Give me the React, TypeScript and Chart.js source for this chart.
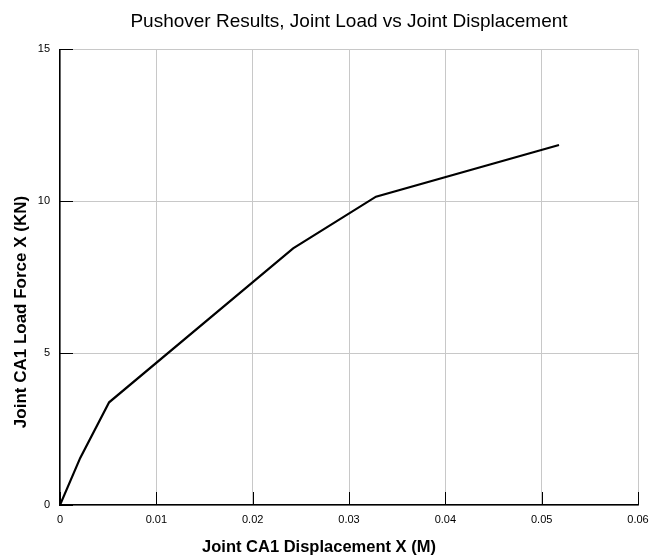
import React, { useEffect, useRef } from 'react';
import { Chart, registerables } from 'chart.js';

Chart.register(...registerables);

const displacement = [0, 0.0021, 0.0051, 0.0242, 0.0328, 0.0518];
const loadForce = [0, 1.55, 3.38, 8.45, 10.15, 11.85];
const xTickValues = [0, 0.01, 0.02, 0.03, 0.04, 0.05, 0.06];
const xTickLabels = ['0', '0.01', '0.02', '0.03', '0.04', '0.05', '0.06'];
const yTickValues = [0, 5, 10, 15];
const yTickLabels = ['0', '5', '10', '15'];
const titleText = 'Pushover Results, Joint Load vs Joint Displacement';
const xTitleText = 'Joint CA1 Displacement X (M)';
const yTitleText = 'Joint CA1 Load Force X (KN)';

const FONT = '"Liberation Sans", Arial, Helvetica, sans-serif';

const innerTicks = {
  id: 'innerTicks',
  beforeDatasetsDraw(chart: any) {
    const { ctx, chartArea, scales } = chart;
    ctx.save();
    ctx.strokeStyle = '#000';
    ctx.lineWidth = 1;
    ctx.beginPath();
    scales.x.ticks.forEach((t: any) => {
      const px = Math.round(scales.x.getPixelForValue(t.value)) + 0.5;
      ctx.moveTo(px, chartArea.bottom);
      ctx.lineTo(px, chartArea.bottom - 13);
    });
    scales.y.ticks.forEach((t: any) => {
      const py = Math.round(scales.y.getPixelForValue(t.value)) + 0.5;
      ctx.moveTo(chartArea.left, py);
      ctx.lineTo(chartArea.left + 13, py);
    });
    ctx.stroke();
    ctx.restore();
  },
};

const yTitlePlugin = {
  id: 'yTitlePlugin',
  afterDraw(chart: any) {
    const { ctx } = chart;
    ctx.save();
    ctx.translate(21, 312);
    ctx.rotate(-Math.PI / 2);
    ctx.font = `bold 17px ${FONT}`;
    ctx.fillStyle = '#000';
    ctx.textAlign = 'center';
    ctx.textBaseline = 'middle';
    ctx.fillText(yTitleText, 0, 0);
    ctx.restore();
  },
};

export default function App() {
  const canvasRef = useRef<HTMLCanvasElement | null>(null);

  useEffect(() => {
    if (!canvasRef.current) return;
    const points = displacement.map((x, i) => ({ x, y: loadForce[i] }));
    const chart = new Chart(canvasRef.current, {
      type: 'line',
      data: {
        datasets: [
          {
            data: points,
            borderColor: '#000',
            borderWidth: 2.2,
            pointRadius: 0,
            tension: 0,
            fill: false,
          },
        ],
      },
      options: {
        responsive: false,
        animation: false,
        devicePixelRatio: 1,
        layout: { padding: { left: 0, right: 11, top: 0, bottom: 0 } },
        plugins: {
          legend: { display: false },
          tooltip: { enabled: false },
          title: {
            display: true,
            text: titleText,
            fullSize: false,
            color: '#000',
            font: { family: FONT, size: 19, weight: 'normal', lineHeight: 1.2 },
            padding: { top: 10, bottom: 16.5 },
          },
          subtitle: {
            display: true,
            text: xTitleText,
            position: 'bottom',
            fullSize: true,
            color: '#000',
            font: { family: FONT, size: 16.5, weight: 'bold', lineHeight: 1 },
            padding: { top: 4, bottom: 0 },
          },
        },
        scales: {
          x: {
            type: 'linear',
            min: 0,
            max: 0.06,
            afterBuildTicks: (s: any) => {
              s.ticks = xTickValues.map((v) => ({ value: v }));
            },
            afterFit: (s: any) => {
              s.height = 30.5;
              s.paddingLeft = 0;
              s.paddingRight = 0;
            },
            ticks: {
              callback: (_v: any, i: number) => xTickLabels[i],
              color: '#000',
              padding: 8,
              maxRotation: 0,
              autoSkip: false,
              font: { family: FONT, size: 11 },
            },
            grid: { color: '#c8c8c8', lineWidth: 1, drawTicks: false },
            border: { color: '#000', width: 1.5 },
          },
          y: {
            type: 'linear',
            min: 0,
            max: 15,
            afterBuildTicks: (s: any) => {
              s.ticks = yTickValues.map((v) => ({ value: v }));
            },
            afterFit: (s: any) => {
              s.width = 60;
            },
            ticks: {
              callback: (_v: any, i: number) => yTickLabels[i],
              color: '#000',
              padding: 10,
              autoSkip: false,
              font: { family: FONT, size: 11 },
            },
            grid: { color: '#c8c8c8', lineWidth: 1, drawTicks: false },
            border: { color: '#000', width: 1.5 },
          },
        },
      },
      plugins: [innerTicks, yTitlePlugin],
    } as any);
    return () => chart.destroy();
  }, []);

  return (
    <div style={{ position: 'fixed', left: 0, top: 0, width: 649, height: 556, background: '#fff' }}>
      <canvas ref={canvasRef} width={649} height={556} style={{ width: 649, height: 556, display: 'block' }} />
    </div>
  );
}
